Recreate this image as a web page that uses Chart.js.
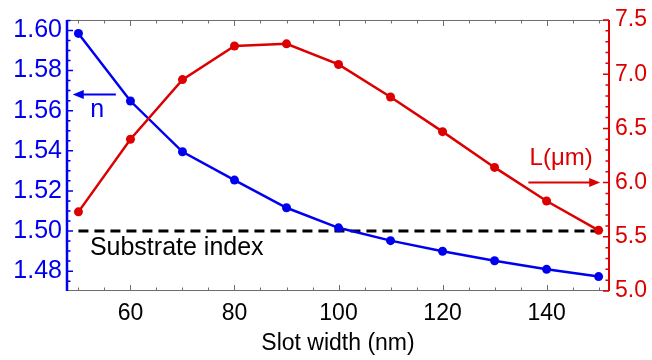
<!DOCTYPE html>
<html>
<head>
<meta charset="utf-8">
<script src="https://cdn.jsdelivr.net/npm/chart.js@4.4.1/dist/chart.umd.min.js"></script>
<style>
  html, body { margin: 0; padding: 0; background: #fff; }
  #wrap { width: 652px; height: 360px; }
</style>
</head>
<body>
<div id="wrap"><canvas id="slotChart" width="652" height="360"></canvas></div>
<script>
// values
var slotWidths = [50, 60, 70, 80, 90, 100, 110, 120, 130, 140, 150];
var indexN = [1.5985, 1.5648, 1.5395, 1.5254, 1.5116, 1.5016, 1.4952, 1.4899, 1.4852, 1.4809, 1.4773];
var lengthL = [5.73, 6.40, 6.95, 7.26, 7.28, 7.09, 6.79, 6.47, 6.14, 5.83, 5.56];
var substrateIndex = 1.50;
var substrateX = [50, 150];
var xTicks = [60, 80, 100, 120, 140];
var nTicks = [1.48, 1.50, 1.52, 1.54, 1.56, 1.58, 1.60];
var lTicks = [5.0, 5.5, 6.0, 6.5, 7.0, 7.5];

var BLUE = '#0000f0';
var RED = '#dc0000';
var FONT = '"Liberation Sans", Arial, sans-serif';

function pts(xs, ys) {
    return xs.map(function (x, i) { return { x: x, y: ys[i] }; });
}

function arrow(ctx, x1, x2, y, color, headLeft) {
    ctx.save();
    ctx.strokeStyle = color;
    ctx.fillStyle = color;
    ctx.lineWidth = 2;
    var hx = headLeft ? x1 : x2;
    var dir = headLeft ? 1 : -1;
    ctx.beginPath();
    ctx.moveTo(x1 + (headLeft ? 8 : 0), y);
    ctx.lineTo(x2 - (headLeft ? 0 : 8), y);
    ctx.stroke();
    ctx.beginPath();
    ctx.moveTo(hx, y);
    ctx.lineTo(hx + dir * 11, y - 4.5);
    ctx.lineTo(hx + dir * 11, y + 4.5);
    ctx.closePath();
    ctx.fill();
    ctx.restore();
}

// frame, inward tick marks and the text notes
var framePlugin = {
    id: 'frame',
    afterDraw: function (chart) {
        var ctx = chart.ctx;
        var a = chart.chartArea;
        var sx = chart.scales.x, sn = chart.scales.yN, sl = chart.scales.yL;
        ctx.save();

        // top / bottom (gray)
        ctx.strokeStyle = '#6e6e6e';
        ctx.lineWidth = 1;
        ctx.beginPath();
        ctx.moveTo(a.left, a.top + 0.5); ctx.lineTo(a.right, a.top + 0.5);
        ctx.moveTo(a.left, a.bottom - 0.5); ctx.lineTo(a.right, a.bottom - 0.5);
        for (var v = 50; v <= 150; v += 5) {
            var px = Math.round(sx.getPixelForValue(v)) + 0.5;
            var len = (v % 20 === 0) ? 6 : 3.5;
            ctx.moveTo(px, a.bottom); ctx.lineTo(px, a.bottom - len);
            ctx.moveTo(px, a.top); ctx.lineTo(px, a.top + len);
        }
        ctx.stroke();

        // left axis (blue)
        ctx.strokeStyle = BLUE;
        ctx.lineWidth = 2.5;
        ctx.beginPath();
        ctx.moveTo(a.left, a.top); ctx.lineTo(a.left, a.bottom);
        ctx.stroke();
        ctx.lineWidth = 1.5;
        ctx.beginPath();
        for (var k = 0; k <= 26; k++) {
            var nv = 1.475 + k * 0.005;
            var py = sn.getPixelForValue(nv);
            if (py < a.top || py > a.bottom) continue;
            var major = Math.abs(Math.round(nv * 100) - nv * 100) < 1e-6 && Math.round(nv * 100) % 2 === 0;
            ctx.moveTo(a.left, py); ctx.lineTo(a.left + (major ? 6 : 3.5), py);
        }
        ctx.stroke();

        // right axis (red)
        ctx.strokeStyle = RED;
        ctx.lineWidth = 2;
        ctx.beginPath();
        ctx.moveTo(a.right, a.top); ctx.lineTo(a.right, a.bottom);
        ctx.stroke();
        ctx.lineWidth = 1.5;
        ctx.beginPath();
        for (var j = 0; j <= 25; j++) {
            var lv = 5.0 + j * 0.1;
            var ly = sl.getPixelForValue(lv);
            var maj = j % 5 === 0;
            ctx.moveTo(a.right, ly); ctx.lineTo(a.right - (maj ? 6 : 3.5), ly);
        }
        ctx.stroke();

        // notes
        arrow(ctx, sx.getPixelForValue(48.9), sx.getPixelForValue(57.2), sn.getPixelForValue(1.568), BLUE, true);
        arrow(ctx, sx.getPixelForValue(136.5), sx.getPixelForValue(150.3), sl.getPixelForValue(6.0), RED, false);

        ctx.font = '25px ' + FONT;
        ctx.textBaseline = 'middle';
        ctx.textAlign = 'center';
        ctx.fillStyle = BLUE;
        ctx.fillText('n', sx.getPixelForValue(53.6), sn.getPixelForValue(1.5605));
        ctx.fillStyle = RED;
        ctx.font = '24px ' + FONT;
        ctx.fillText('L(\u03bcm)', sx.getPixelForValue(142.8), sl.getPixelForValue(6.22));
        ctx.textAlign = 'left';
        ctx.fillStyle = '#000';
        ctx.font = '25px ' + FONT;
        ctx.fillText('Substrate index', sx.getPixelForValue(52.2), sn.getPixelForValue(1.4915));
        ctx.restore();
    }
};

var ctx = document.getElementById('slotChart').getContext('2d');
var slotChart = new Chart(ctx, {
    type: 'line',
    data: {
        datasets: [{
            label: 'Substrate index',
            data: pts(substrateX, [substrateIndex, substrateIndex]),
            yAxisID: 'yN',
            borderColor: '#000',
            borderWidth: 3,
            borderDash: [10, 6],
            pointRadius: 0,
            order: 3
        }, {
            label: 'n',
            data: pts(slotWidths, indexN),
            yAxisID: 'yN',
            borderColor: BLUE,
            backgroundColor: BLUE,
            borderWidth: 2.5,
            pointRadius: 4.5,
            pointBorderWidth: 0,
            order: 2
        }, {
            label: 'L (um)',
            data: pts(slotWidths, lengthL),
            yAxisID: 'yL',
            borderColor: RED,
            backgroundColor: RED,
            borderWidth: 2.5,
            pointRadius: 4.5,
            pointBorderWidth: 0,
            order: 1
        }]
    },
    options: {
        responsive: false,
        animation: false,
        layout: { padding: { top: 19, left: 0, right: 0, bottom: 0 } },
        plugins: {
            legend: { display: false },
            tooltip: { enabled: false }
        },
        scales: {
            x: {
                type: 'linear',
                min: 47.8,
                max: 152,
                afterBuildTicks: function (s) { s.ticks = xTicks.map(function (v) { return { value: v }; }); },
                afterFit: function (s) { s.height = 69; },
                grid: { display: false, drawTicks: false },
                border: { display: false },
                ticks: {
                    padding: 9,
                    color: '#000',
                    maxRotation: 0,
                    font: { family: FONT, size: 23 }
                },
                title: {
                    display: true,
                    text: 'Slot width (nm)',
                    color: '#000',
                    font: { family: FONT, size: 23 },
                    padding: { top: 0, bottom: 3 }
                }
            },
            yN: {
                type: 'linear',
                position: 'left',
                min: 1.4701,
                max: 1.6052,
                afterBuildTicks: function (s) { s.ticks = nTicks.map(function (v) { return { value: v }; }); },
                afterFit: function (s) { s.width = 67; },
                grid: { display: false, drawTicks: false },
                border: { display: false },
                ticks: {
                    padding: 5,
                    color: BLUE,
                    font: { family: FONT, size: 25 },
                    callback: function (v) { return v.toFixed(2); }
                }
            },
            yL: {
                type: 'linear',
                position: 'right',
                min: 5.0,
                max: 7.5,
                afterBuildTicks: function (s) { s.ticks = lTicks.map(function (v) { return { value: v }; }); },
                afterFit: function (s) { s.width = 43; },
                grid: { display: false, drawTicks: false },
                border: { display: false },
                ticks: {
                    padding: 6,
                    color: RED,
                    font: { family: FONT, size: 23 },
                    callback: function (v) { return v.toFixed(1); }
                }
            }
        }
    },
    plugins: [framePlugin]
});
</script>
</body>
</html>
